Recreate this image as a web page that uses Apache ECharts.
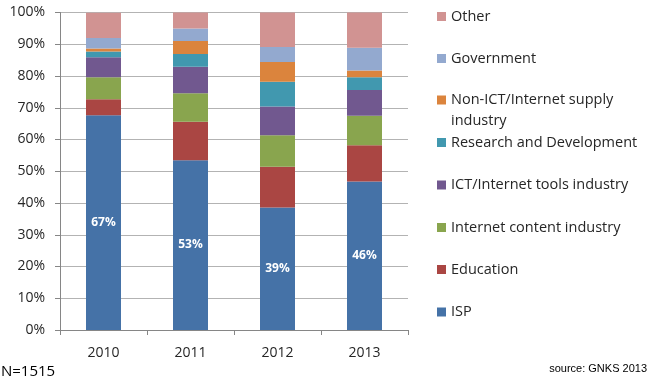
<!DOCTYPE html>
<html><head><meta charset="utf-8">
<script src="https://cdn.jsdelivr.net/npm/echarts@6/dist/echarts.min.js"></script>
<style>html,body{margin:0;padding:0;background:#fff}#c{width:649px;height:382px}</style>
</head><body><div id="c"></div>
<script>
const years = ['2010', '2011', '2012', '2013'];
const isp = [67.6, 53.5, 38.6, 46.8];
const education = [5.1, 12.1, 12.8, 11.4];
const content = [6.9, 9.0, 9.9, 9.3];
const ictTools = [6.3, 8.3, 9.1, 8.1];
const rnd = [1.8, 4.0, 7.8, 4.0];
const nonIct = [1.0, 4.1, 6.2, 2.1];
const government = [3.3, 4.0, 4.7, 7.2];
const other = [7.9, 5.0, 10.9, 11.1];
const ispLabels = ['67%', '53%', '39%', '46%'];
const yTicks = ['0%','10%','20%','30%','40%','50%','60%','70%','80%','90%','100%'];

const seriesDefs = [
  {name: 'ISP', data: isp, color: '#4572A7'},
  {name: 'Education', data: education, color: '#AA4643'},
  {name: 'Internet content industry', data: content, color: '#89A54E'},
  {name: 'ICT/Internet tools industry', data: ictTools, color: '#71588F'},
  {name: 'Research and Development', data: rnd, color: '#4198AF'},
  {name: 'Non-ICT/Internet supply industry', data: nonIct, color: '#DB843D'},
  {name: 'Government', data: government, color: '#93A9CF'},
  {name: 'Other', data: other, color: '#D19392'}
];
const legendCenters = {
  'Other': 16.5, 'Government': 58.5, 'Non-ICT/Internet supply industry': 100,
  'Research and Development': 142.5, 'ICT/Internet tools industry': 185,
  'Internet content industry': 227.5, 'Education': 269.5, 'ISP': 312
};
const FONT = 'Open Sans';
const legends = seriesDefs.map(s => {
  const multi = s.name.startsWith('Non-ICT');
  const c = legendCenters[s.name];
  return {
    data: [s.name], left: 437, top: multi ? c - 31.5 : c - 8, padding: 0,
    itemWidth: 9, itemHeight: 9, itemGap: 0, icon: 'rect', selectedMode: false,
    formatter: multi ? ' \nNon-ICT/Internet supply\nindustry' : '{name}',
    textStyle: multi
      ? {fontFamily: FONT, fontSize: 14.5, color: '#262626', lineHeight: 21}
      : {fontFamily: FONT, fontSize: 14.5, color: '#262626', lineHeight: 16}
  };
});

const chart = echarts.init(document.getElementById('c'), null, {renderer: 'canvas'});
chart.setOption({
  animation: false,
  grid: {left: 60, right: 241, top: 12.5, bottom: 52, containLabel: false},
  legend: legends,
  xAxis: {
    type: 'category', data: years,
    axisLine: {lineStyle: {color: '#868686'}},
    axisTick: {show: true, length: 5, lineStyle: {color: '#868686'}},
    axisLabel: {fontFamily: FONT, fontSize: 14, color: '#262626', margin: 16}
  },
  yAxis: {
    type: 'value', min: 0, max: 100, interval: 10,
    axisLine: {show: true, lineStyle: {color: '#868686'}},
    axisTick: {show: true, length: 5, lineStyle: {color: '#868686'}},
    splitLine: {lineStyle: {color: '#b3b3b3'}},
    axisLabel: {fontFamily: FONT, fontSize: 14, color: '#262626', margin: 15,
      formatter: v => yTicks[Math.round(v / 10)]}
  },
  series: seriesDefs.map((s, i) => ({
    name: s.name, type: 'bar', stack: 'total', barWidth: 35, data: s.data,
    itemStyle: {color: s.color},
    label: i === 0 ? {show: true, position: 'inside', color: '#fff', fontFamily: FONT,
      fontWeight: 'bold', fontSize: 12, formatter: p => ispLabels[p.dataIndex]} : {show: false}
  })),
  graphic: [
    {type: 'text', left: 1, top: 364, style: {text: 'N=1515', fontFamily: FONT, fontSize: 15, fill: '#000'}},
    {type: 'text', right: 2, top: 363, style: {text: 'source: GNKS 2013', fontFamily: 'Liberation Sans', fontSize: 11, fill: '#000'}}
  ]
});
</script></body></html>
